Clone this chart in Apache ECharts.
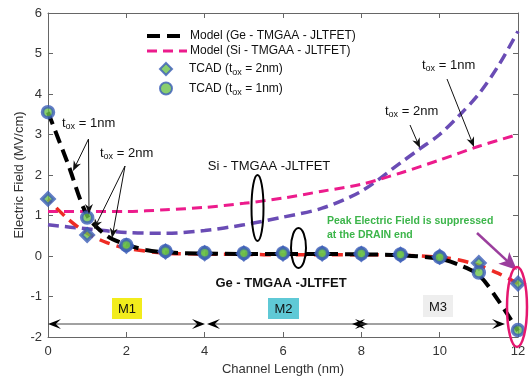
<!DOCTYPE html>
<html><head><meta charset="utf-8">
<script src="https://cdn.jsdelivr.net/npm/echarts@6/dist/echarts.min.js"></script>
<style>html,body{margin:0;padding:0;background:#fff}#c{width:529px;height:378px}</style>
</head><body><div id="c"></div>
<script>
// ---- data ----
const xTicks = [0, 2, 4, 6, 8, 10, 12];
const yTicks = [-2, -1, 0, 1, 2, 3, 4, 5, 6];
// Ge model, tox = 1nm (black)
const geModel1nm = [[0,3.55],[0.5,2.3],[1,1.0],[1.5,0.5],[2,0.28],[2.5,0.15],[3,0.09],[4,0.06],[5,0.05],[6,0.05],[7,0.05],[8,0.04],[9,0.02],[10,-0.07],[10.5,-0.22],[11,-0.47],[11.5,-1.1],[12,-1.85]];
// Ge model, tox = 2nm (red)
const geModel2nm = [[0,1.4],[0.5,0.92],[1,0.56],[1.5,0.33],[2,0.19],[3,0.07],[4,0.05],[5,0.04],[6,0.03],[7,0.03],[8,0.03],[9,0.02],[10,-0.03],[10.5,-0.1],[11,-0.23],[11.5,-0.43],[12,-0.68]];
// Si model, tox = 1nm (magenta)
const siModel1nm = [[0,1.1],[1,1.1],[2,1.1],[3,1.14],[4,1.2],[5,1.3],[6,1.43],[7,1.6],[8,1.77],[9,2.05],[10,2.37],[11,2.71],[12,3.0]];
// Si model, tox = 2nm (purple)
const siModel2nm = [[0,0.77],[1,0.67],[2,0.58],[3,0.56],[4,0.63],[5,0.77],[6,0.96],[7,1.18],[8,1.6],[9,2.3],[9.5,2.65],[10,3.0],[10.5,3.47],[11,4.0],[11.5,4.7],[12,5.55]];
// TCAD points
const tcad2nm = [[0,1.41],[1,0.52],[2,0.25],[3,0.11],[4,0.07],[5,0.06],[6,0.06],[7,0.06],[8,0.05],[9,0.03],[10,-0.02],[11,-0.17],[12,-0.68]];
const tcad1nm = [[0,3.55],[1,0.95],[2,0.27],[3,0.12],[4,0.08],[5,0.07],[6,0.07],[7,0.07],[8,0.06],[9,0.04],[10,-0.03],[11,-0.41],[12,-1.83]];

const FONT = 'Liberation Sans, Arial, sans-serif';
const subRich = { sub: { fontSize: 9, padding: [8, 0, 0, 0], fontFamily: FONT } };

const chart = echarts.init(document.getElementById('c'), null, { renderer: 'canvas' });

const axisCommon = {
  axisLine: { show: true, onZero: false, lineStyle: { color: '#666', width: 1 } },
  axisTick: { show: true, inside: true, length: 5, lineStyle: { color: '#666' } },
  splitLine: { show: false }
};
const legendText = { fontSize: 12, color: '#111', fontFamily: FONT, rich: subRich };

const option = {
  animation: false,
  backgroundColor: '#fff',
  grid: { left: 48, right: 11, top: 13, bottom: 41, containLabel: false, outerBoundsMode: 'none' },
  legend: [
    {
      data: ['Model (Ge - TMGAA - JLTFET)', 'Model (Si - TMGAA - JLTFET)'],
      orient: 'vertical', left: 145, top: 30, padding: 0, itemWidth: 40, itemHeight: 12, itemGap: 3,
      itemStyle: { opacity: 0, borderWidth: 0 },
      lineStyle: { width: 'inherit' },
      textStyle: Object.assign({}, legendText, { padding: [0, 0, 0, -2] })
    },
    {
      data: ['TCAD (tox = 2nm)', 'TCAD (tox = 1nm)'],
      orient: 'vertical', left: 159, top: 62, padding: 0, itemWidth: 12, itemHeight: 12, itemGap: 4,
      textStyle: Object.assign({}, legendText, { padding: [0, 0, 0, 12] }),
      formatter: n => n.replace('tox', 't{sub|ox}')
    }
  ],
  xAxis: [
    Object.assign({}, axisCommon, {
      type: 'value', min: xTicks[0], max: xTicks[xTicks.length - 1], interval: 2, position: 'bottom',
      axisLabel: { fontSize: 13, color: '#333', margin: 8, fontFamily: FONT },
      name: 'Channel Length (nm)', nameLocation: 'middle', nameGap: 26, nameMoveOverlap: false,
      nameTextStyle: { fontSize: 13, color: '#333', fontFamily: FONT }
    }),
    Object.assign({}, axisCommon, {
      type: 'value', min: xTicks[0], max: xTicks[xTicks.length - 1], interval: 2, position: 'top',
      axisLabel: { show: false }
    })
  ],
  yAxis: [
    Object.assign({}, axisCommon, {
      type: 'value', min: yTicks[0], max: yTicks[yTicks.length - 1], interval: 1, position: 'left',
      axisLabel: { fontSize: 13, color: '#333', margin: 6, fontFamily: FONT },
      name: 'Electric Field (MV/cm)', nameLocation: 'middle', nameGap: 22, nameMoveOverlap: false,
      nameTextStyle: { fontSize: 13, color: '#333', fontFamily: FONT }
    }),
    Object.assign({}, axisCommon, {
      type: 'value', min: yTicks[0], max: yTicks[yTicks.length - 1], interval: 1, position: 'right',
      axisLabel: { show: false }
    })
  ],
  series: [
    { name: 'Si2', type: 'line', data: siModel2nm, symbol: 'none', smooth: 0.3, z: 2,
      lineStyle: { color: '#6a4cb5', width: 3.5, type: [11, 6] } },
    { name: 'Model (Si - TMGAA - JLTFET)', type: 'line', data: siModel1nm, symbol: 'none', smooth: 0.3, z: 2,
      color: '#ec1b8c', lineStyle: { color: '#ec1b8c', width: 3, type: [10, 6] } },
    { name: 'Ge2', type: 'line', data: geModel2nm, symbol: 'none', smooth: 0.3, z: 3,
      lineStyle: { color: '#ee2b24', width: 3.5, type: [11, 7], dashOffset: 6 } },
    { name: 'Model (Ge - TMGAA - JLTFET)', type: 'line', data: geModel1nm, symbol: 'none', smooth: 0.3, z: 3,
      color: '#000', lineStyle: { color: '#000', width: 4, type: [13, 7] } },
    { name: 'TCAD (tox = 2nm)', type: 'scatter', data: tcad2nm, symbol: 'diamond', symbolSize: 12, z: 5,
      itemStyle: { color: '#6cc24a', borderColor: '#3b5cb8', borderWidth: 3.5 } },
    { name: 'TCAD (tox = 1nm)', type: 'scatter', data: tcad1nm, symbol: 'circle', symbolSize: 11, z: 6,
      itemStyle: { color: '#6cc24a', borderColor: '#3b5cb8', borderWidth: 3.5 } }
  ]
};
chart.setOption(option);

// ---- annotation helpers (pixel layout of the callouts) ----
function arrowHead(tx, ty, fx, fy, L, W, notch, color) {
  const dx = tx - fx, dy = ty - fy, len = Math.hypot(dx, dy);
  const ux = dx / len, uy = dy / len, nx = -uy, ny = ux;
  return { type: 'polygon', z: 100, shape: { points: [
    [tx, ty],
    [tx - ux * L + nx * W, ty - uy * L + ny * W],
    [tx - ux * L * notch, ty - uy * L * notch],
    [tx - ux * L - nx * W, ty - uy * L - ny * W]
  ] }, style: { fill: color } };
}
function arrow(fx, fy, tx, ty, opt) {
  const o = Object.assign({ color: '#111', width: 1, L: 10, W: 4, notch: 0.7 }, opt || {});
  const dx = tx - fx, dy = ty - fy, len = Math.hypot(dx, dy);
  const ex = tx - dx / len * o.L * 0.6, ey = ty - dy / len * o.L * 0.6;
  return [
    { type: 'line', z: 100, shape: { x1: fx, y1: fy, x2: ex, y2: ey }, style: { stroke: o.color, lineWidth: o.width } },
    arrowHead(tx, ty, fx, fy, o.L, o.W, o.notch, o.color)
  ];
}
function toxText(x, y, val) {
  return { type: 'text', z: 100, x: x, y: y, style: { text: 't{sub|ox} = ' + val, fontSize: 13, fontFamily: FONT, fill: '#111',
    verticalAlign: 'middle', align: 'left', rich: subRich } };
}
function label(x, y, txt, extra) {
  return { type: 'text', z: 100, x: x, y: y, style: Object.assign({ text: txt, fontSize: 13, fontFamily: FONT, fill: '#111',
    align: 'center', verticalAlign: 'middle' }, extra || {}) };
}
function box(x, y, w, h, fill, txt) {
  return [
    { type: 'rect', z: 99, shape: { x: x, y: y, width: w, height: h }, style: { fill: fill } },
    label(x + w / 2, y + h / 2 + 1, txt, { fontSize: 13 })
  ];
}
function dbl(x1, x2, y) {
  return [
    { type: 'line', z: 100, shape: { x1: x1 + 6, y1: y, x2: x2 - 6, y2: y }, style: { stroke: '#444', lineWidth: 1 } },
    arrowHead(x1, y, x1 + 10, y, 13, 5, 0.6, '#000'),
    arrowHead(x2, y, x2 - 10, y, 13, 5, 0.6, '#000')
  ];
}

let g = [];
g.push(toxText(62, 123, '1nm'));
g.push(toxText(100, 153, '2nm'));
g.push(toxText(422, 65, '1nm'));
g.push(toxText(385, 111, '2nm'));
g = g.concat(arrow(88.5, 139, 73, 171), arrow(88.5, 139, 89, 214), arrow(125, 166, 94, 229), arrow(125, 166, 112, 238));
g = g.concat(arrow(447, 79, 474, 147), arrow(410, 125, 420, 148));
g = g.concat(arrow(477, 233, 517, 270, { color: '#9b3e9d', width: 2.5, L: 18, W: 8, notch: 0.75 }));
g.push(label(269, 166.5, 'Si - TMGAA -JLTFET'));
g.push(label(281, 283, 'Ge - TMGAA -JLTFET', { fontWeight: 'bold' }));
g.push({ type: 'ellipse', z: 100, shape: { cx: 257.5, cy: 208, rx: 6, ry: 33 }, style: { fill: null, stroke: '#000', lineWidth: 2 } });
g.push({ type: 'ellipse', z: 100, shape: { cx: 298.5, cy: 248, rx: 7.5, ry: 20 }, style: { fill: null, stroke: '#000', lineWidth: 2 } });
g.push({ type: 'ellipse', z: 100, shape: { cx: 517, cy: 307, rx: 10, ry: 40 }, style: { fill: null, stroke: '#e5176f', lineWidth: 2.5 } });
g.push(label(327, 221, 'Peak Electric Field is suppressed', { align: 'left', fontWeight: 'bold', fontSize: 10.5, fill: '#3cb54a' }));
g.push(label(327, 235, 'at the DRAIN end', { align: 'left', fontWeight: 'bold', fontSize: 10.5, fill: '#3cb54a' }));
g = g.concat(box(112, 298, 30, 21, '#f2ec1c', 'M1'), box(268, 298, 31, 21, '#5fc9d6', 'M2'), box(423, 295, 30, 22, '#eeeeee', 'M3'));
g = g.concat(dbl(48, 205, 324), dbl(207, 368, 324), dbl(352, 505, 324));
chart.setOption({ graphic: g });
</script>
</body></html>
